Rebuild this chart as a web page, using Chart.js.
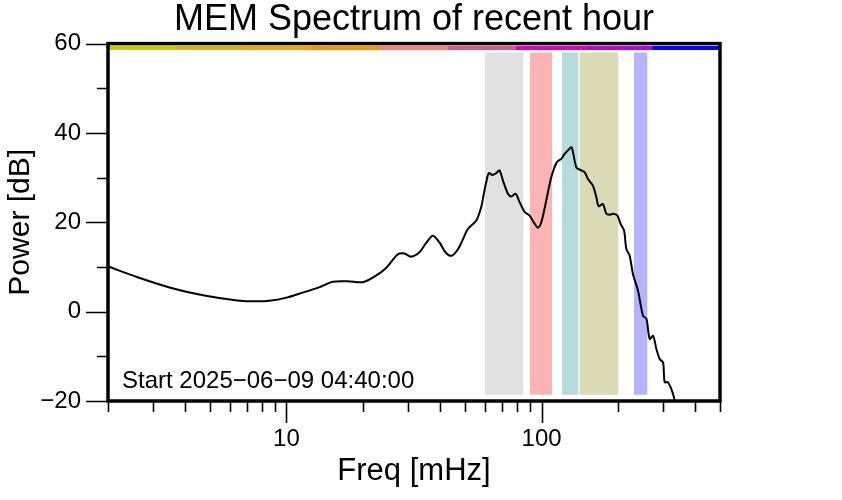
<!DOCTYPE html>
<html>
<head>
<meta charset="utf-8">
<script src="https://cdn.jsdelivr.net/npm/chart.js@4.4.1/dist/chart.umd.min.js"></script>
<style>
  html, body { margin: 0; padding: 0; background: #fff; }
  #wrap { width: 842px; height: 500px; }
</style>
</head>
<body>
<div id="wrap"><canvas id="memChart" width="842" height="500"></canvas></div>
<script>
// spectrum
const freqs = [2.0, 2.61, 3.54, 4.77, 6.42, 7.63, 8.73, 10.1, 11.2, 13.5,
  15.2, 17.4, 19.9, 22.5, 24.7, 27.3, 29.0, 30.8, 33.2, 35.4,
  37.5, 39.8, 42.0, 44.3, 46.8, 49.0, 51.4, 55.5, 58.0, 59.2,
  60.7, 62.1, 64.1, 66.4, 68.4, 70.5, 73.8, 76.1, 79.1, 82.0,
  85.8, 89.7, 93.9, 96.7, 99.7, 104.3, 109.1, 114.8, 119.4, 123.1,
  126.8, 130.8, 132.7, 136.8, 140.9, 147.4, 151.9, 158.9, 163.9, 167.3,
  173.9, 179.4, 184.8, 190.4, 198.1, 204.1, 210.3, 214.9, 221.3, 228.0,
  238.6, 249.6, 257.4, 265.2, 273.3, 281.8, 290.2, 299.1, 303.7, 312.8,
  327.3, 335.3];
const power = [10.1, 7.7, 5.3, 3.6, 2.5, 2.3, 2.5, 3.2, 4.0, 5.5,
  6.7, 6.8, 6.6, 8.1, 9.9, 12.8, 13.0, 12.3, 13.3, 15.5,
  17.0, 15.5, 13.3, 12.5, 13.8, 16.0, 18.5, 20.4, 23.4, 26.0,
  29.0, 31.0, 30.6, 31.0, 31.6, 29.4, 26.4, 25.8, 26.4, 24.5,
  22.3, 21.5, 19.7, 18.8, 20.0, 24.9, 30.1, 33.5, 34.2, 35.3,
  36.1, 36.8, 35.7, 32.3, 31.8, 31.2, 29.7, 28.2, 25.6, 23.6,
  24.1, 21.9, 21.7, 21.9, 21.5, 19.6, 18.2, 14.0, 12.5, 8.4,
  4.7, -0.9, -1.6, -6.1, -5.4, -8.4, -10.6, -11.4, -15.8, -15.8,
  -18.4, -21];

// shaded frequency bands
const bandLo = [60, 90, 120, 140.5, 230];
const bandHi = [85, 110, 139.5, 200, 260];
const bandColors = ['#e1e1e1', '#ffb4b4', '#b4dcdd', '#dadab4', '#b4b4ff'];
const bandTop = 58;
const bandBottom = -18.6;

// colour strip along the top
const stripEdges = [2, 3.69, 6.82, 12.6, 23.3, 43.0, 79.4, 146.7, 270.9, 500];
const stripColors = ['#c8cc00', '#d6b400', '#eea600', '#ff9000', '#ff8070', '#dc5a82', '#e000c0', '#c000e0', '#0000ff'];
const stripLevel = 59;

// axes
const xTickValues = [2, 3, 4, 5, 6, 7, 8, 9, 10, 20, 30, 40, 50, 60, 70, 80, 90, 100, 200, 300, 400, 500];
const xTickLabels = [10, 100];
const yTickValues = [-20, -10, 0, 10, 20, 30, 40, 50, 60];
const yTickLabels = [-20, 0, 20, 40, 60];
const startLabel = 'Start 2025\u221206\u221209 04:40:00';

const FONT = '"Liberation Sans", Arial, Helvetica, sans-serif';

// frame, tick marks and the start note
const frameAndTicks = {
    id: 'frameAndTicks',
    afterDraw(chart) {
        const { ctx, chartArea: a, scales: { x, y } } = chart;
        ctx.save();
        ctx.strokeStyle = '#000';
        ctx.lineWidth = 1.6;
        ctx.beginPath();
        xTickValues.forEach(v => {
            const px = Math.round(x.getPixelForValue(v)) + 0.5;
            const len = xTickLabels.includes(v) ? 22 : 11;
            ctx.moveTo(px, a.bottom);
            ctx.lineTo(px, a.bottom + len);
        });
        yTickValues.forEach(v => {
            const py = Math.round(y.getPixelForValue(v)) + 0.5;
            const len = yTickLabels.includes(v) ? 22 : 11;
            ctx.moveTo(a.left, py);
            ctx.lineTo(a.left - len, py);
        });
        ctx.stroke();

        ctx.lineWidth = 3.5;
        ctx.strokeRect(a.left, a.top, a.right - a.left, a.bottom - a.top);

        ctx.fillStyle = '#000';
        ctx.font = '24px ' + FONT;
        ctx.textBaseline = 'middle';
        ctx.fillText(startLabel, a.left + 14, a.bottom - 20);
        ctx.restore();
    }
};

const datasets = [{
    data: freqs.map((f, i) => ({ x: f, y: power[i] })),
    borderColor: '#000',
    borderWidth: 2,
    pointRadius: 0,
    tension: 0.3,
    fill: false,
    order: 0
}, {
    data: stripEdges.map(f => ({ x: f, y: stripLevel })),
    borderWidth: 4,
    pointRadius: 0,
    tension: 0,
    fill: false,
    borderColor: stripColors[0],
    segment: { borderColor: c => stripColors[c.p0DataIndex] },
    order: 1
}];

bandLo.forEach((lo, i) => {
    datasets.push({
        data: [{ x: lo, y: bandTop }, { x: bandHi[i], y: bandTop }],
        borderWidth: 0,
        borderColor: 'rgba(0,0,0,0)',
        backgroundColor: bandColors[i],
        pointRadius: 0,
        tension: 0,
        fill: { value: bandBottom },
        order: 2
    });
});

new Chart(document.getElementById('memChart'), {
    type: 'line',
    data: { datasets },
    options: {
        responsive: false,
        animation: false,
        events: [],
        layout: { padding: { left: 0, right: 122, top: 0, bottom: 0 } },
        plugins: {
            legend: { display: false },
            tooltip: { enabled: false },
            title: {
                display: true,
                text: 'MEM Spectrum of recent hour',
                fullSize: false,
                color: '#000',
                font: { family: FONT, size: 36, weight: 'normal', lineHeight: 1.1 },
                padding: { top: 0, bottom: 4 }
            }
        },
        scales: {
            x: {
                type: 'logarithmic',
                min: 2,
                max: 500,
                afterBuildTicks: s => { s.ticks = xTickValues.map(v => ({ value: v })); },
                afterFit: s => { s.height = 99; },
                grid: { drawOnChartArea: false, tickLength: 22, color: 'rgba(0,0,0,0)' },
                border: { display: false },
                ticks: {
                    autoSkip: false,
                    maxRotation: 0,
                    color: '#000',
                    padding: 2,
                    font: { family: FONT, size: 24 },
                    callback: v => xTickLabels.includes(v) ? String(v) : ''
                },
                title: {
                    display: true,
                    text: 'Freq [mHz]',
                    color: '#000',
                    font: { family: FONT, size: 31 },
                    padding: { top: 0, bottom: 10 }
                }
            },
            y: {
                min: -20,
                max: 60,
                afterBuildTicks: s => { s.ticks = yTickValues.map(v => ({ value: v })); },
                afterFit: s => { s.width = 108; },
                grid: { drawOnChartArea: false, tickLength: 22, color: 'rgba(0,0,0,0)' },
                border: { display: false },
                ticks: {
                    color: '#000',
                    padding: 5,
                    font: { family: FONT, size: 24 },
                    callback: v => yTickLabels.includes(v) ? (v < 0 ? '\u2212' + Math.abs(v) : String(v)) : ''
                },
                title: {
                    display: true,
                    text: 'Power [dB]',
                    color: '#000',
                    font: { family: FONT, size: 30 },
                    padding: { top: 3, bottom: 0 }
                }
            }
        }
    },
    plugins: [frameAndTicks]
});
</script>
</body>
</html>
